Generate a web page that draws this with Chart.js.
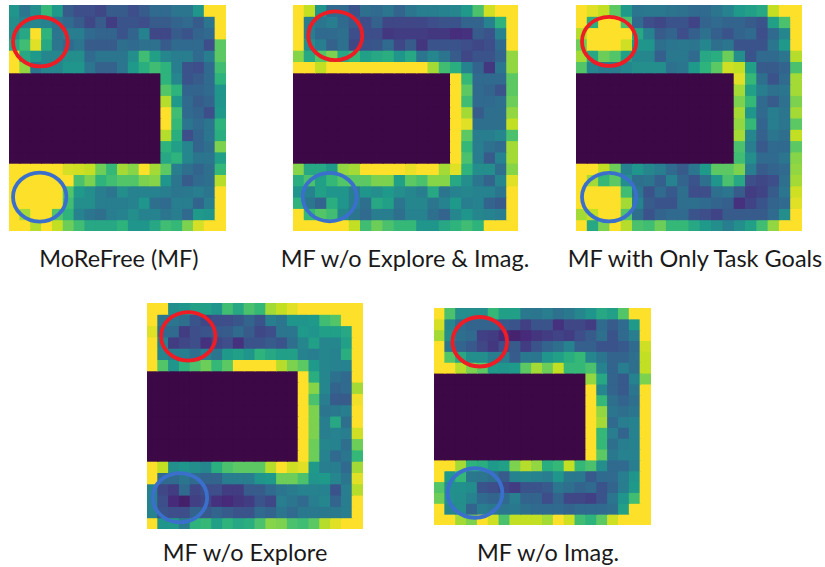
<!DOCTYPE html>
<html>
<head>
<meta charset="utf-8">
<script src="https://cdn.jsdelivr.net/npm/chart.js"></script>
<style>
    html, body { margin: 0; background: #fff; }
    body { position: relative; width: 825px; height: 567px; overflow: hidden; }
    .map { position: absolute; filter: blur(0.45px); }
    .label { position: absolute; width: 300px; text-align: center; font: 23.5px Lato, sans-serif; color: #1a1a1a; white-space: nowrap; }
</style>
</head>
<body>
<script>
const columns = ['0','1','2','3','4','5','6','7','8','9','10','11','12','13','14','15','16','17','18','19'];

const moreFree = [
    [48,35,45,62,50,25,20,20,18,25,25,20,25,30,30,35,35,48,100,100],
    [45,40,42,40,35,30,25,18,25,15,22,22,20,25,25,28,30,25,35,100],
    [45,55,100,60,35,38,38,30,28,28,22,28,40,18,18,25,22,28,30,100],
    [55,65,95,55,35,30,35,25,25,25,32,30,33,33,25,30,30,30,20,72],
    [100,55,50,42,42,45,45,30,35,35,35,45,65,52,42,38,38,30,38,72],
    [100,82,35,42,42,48,48,35,27,27,35,50,58,65,60,38,22,20,30,65],
    [0,0,0,0,0,0,0,0,0,0,0,0,0,0,60,42,22,25,30,60],
    [0,0,0,0,0,0,0,0,0,0,0,0,0,0,70,60,28,28,30,48],
    [0,0,0,0,0,0,0,0,0,0,0,0,0,0,88,50,30,25,28,48],
    [0,0,0,0,0,0,0,0,0,0,0,0,0,0,100,65,30,28,20,50],
    [0,0,0,0,0,0,0,0,0,0,0,0,0,0,100,62,35,30,35,60],
    [0,0,0,0,0,0,0,0,0,0,0,0,0,0,88,58,20,28,35,58],
    [0,0,0,0,0,0,0,0,0,0,0,0,0,0,60,52,42,28,32,78],
    [0,0,0,0,0,0,0,0,0,0,0,0,0,0,55,60,42,35,35,52],
    [100,100,100,100,100,93,92,90,75,62,85,80,100,85,72,38,32,28,32,62],
    [100,100,100,100,100,100,68,78,60,65,70,70,78,80,48,35,25,30,32,88],
    [100,100,100,100,100,70,50,45,38,35,45,40,40,40,38,35,36,38,35,100],
    [100,100,100,100,100,65,45,45,38,38,38,40,48,32,30,38,38,28,38,100],
    [100,85,100,100,70,60,40,35,32,38,40,45,40,40,35,38,30,50,48,100],
    [100,100,88,100,90,75,65,55,55,55,60,48,48,55,65,62,78,93,100,100]
];

const noExploreImag = [
    [100,90,48,30,30,22,32,30,35,28,35,38,38,40,42,50,68,92,100,100],
    [100,38,35,38,30,25,20,27,18,18,18,18,20,22,22,28,28,40,60,100],
    [100,38,30,30,32,20,20,20,14,15,15,15,14,14,11,12,25,22,40,100],
    [100,45,38,27,33,18,22,23,30,18,25,13,22,22,22,20,18,20,30,100],
    [80,55,70,78,55,62,52,55,58,48,55,35,42,35,25,18,22,22,28,82],
    [100,100,90,100,100,100,100,100,100,100,100,100,85,65,58,40,28,14,35,82],
    [0,0,0,0,0,0,0,0,0,0,0,0,0,0,100,62,30,30,30,72],
    [0,0,0,0,0,0,0,0,0,0,0,0,0,0,100,72,30,28,22,72],
    [0,0,0,0,0,0,0,0,0,0,0,0,0,0,100,65,30,30,32,75],
    [0,0,0,0,0,0,0,0,0,0,0,0,0,0,100,85,25,32,32,82],
    [0,0,0,0,0,0,0,0,0,0,0,0,0,0,100,95,32,32,32,90],
    [0,0,0,0,0,0,0,0,0,0,0,0,0,0,100,72,38,38,42,68],
    [0,0,0,0,0,0,0,0,0,0,0,0,0,0,100,62,38,33,30,85],
    [0,0,0,0,0,0,0,0,0,0,0,0,0,0,100,68,38,25,40,85],
    [80,55,55,50,82,85,100,100,100,100,97,100,100,85,95,60,45,45,32,80],
    [58,68,52,62,70,72,72,78,78,52,72,68,80,80,55,45,35,28,42,95],
    [48,40,52,48,48,38,48,45,50,45,42,38,55,35,40,42,40,40,35,100],
    [60,35,28,58,48,38,32,55,52,35,42,42,35,40,50,38,40,28,25,100],
    [100,62,70,65,42,35,30,38,38,32,40,40,32,28,42,48,42,40,38,100],
    [100,100,100,100,100,90,65,75,68,62,62,48,48,55,60,65,60,100,100,100]
];

const onlyTaskGoals = [
    [100,95,90,72,50,35,36,36,34,33,30,30,35,40,50,52,55,90,100,100],
    [100,58,100,100,68,30,20,18,22,22,17,28,30,28,28,25,22,52,68,100],
    [88,100,100,100,100,55,40,25,28,20,26,33,26,22,28,30,20,30,42,100],
    [75,100,100,100,92,48,48,32,35,36,35,42,32,35,22,22,22,35,50,100],
    [85,55,75,70,52,42,42,26,36,36,30,55,58,75,45,22,30,30,35,88],
    [70,42,38,38,42,45,45,45,33,35,50,60,72,92,90,52,25,25,28,68],
    [0,0,0,0,0,0,0,0,0,0,0,0,0,0,95,62,32,22,30,85],
    [0,0,0,0,0,0,0,0,0,0,0,0,0,0,85,52,38,33,35,85],
    [0,0,0,0,0,0,0,0,0,0,0,0,0,0,78,62,30,25,33,78],
    [0,0,0,0,0,0,0,0,0,0,0,0,0,0,85,48,30,38,35,85],
    [0,0,0,0,0,0,0,0,0,0,0,0,0,0,82,62,28,38,35,72],
    [0,0,0,0,0,0,0,0,0,0,0,0,0,0,85,42,27,35,32,90],
    [0,0,0,0,0,0,0,0,0,0,0,0,0,0,68,38,24,30,30,72],
    [0,0,0,0,0,0,0,0,0,0,0,0,0,0,65,45,30,30,35,80],
    [100,100,90,75,40,48,42,38,30,25,35,50,72,72,78,38,25,28,30,82],
    [100,85,62,72,45,32,34,26,40,28,22,32,48,68,55,20,18,20,32,85],
    [100,100,100,100,65,35,22,30,24,32,20,20,32,35,25,15,17,25,35,92],
    [100,100,100,100,85,40,25,22,22,32,32,30,28,26,12,17,22,28,30,95],
    [85,90,100,100,70,32,22,28,30,30,22,20,17,25,25,25,25,30,45,100],
    [100,55,78,100,88,68,65,75,62,62,55,50,45,38,45,52,65,82,100,100]
];

const noExplore = [
    [100,100,45,48,52,52,48,65,55,68,62,85,90,95,100,100,100,100,100,100],
    [100,35,35,32,22,18,20,20,23,28,22,38,35,48,48,50,65,70,100,100],
    [95,30,30,15,20,22,24,25,30,25,18,20,35,35,50,48,52,52,55,100],
    [100,40,15,18,20,12,18,20,12,22,22,25,22,32,42,52,42,42,52,100],
    [100,42,38,38,32,40,35,50,52,48,60,55,52,52,40,38,42,40,58,100],
    [100,70,48,60,68,75,62,72,100,100,100,100,88,78,72,50,42,40,40,100],
    [0,0,0,0,0,0,0,0,0,0,0,0,0,0,100,58,42,33,30,100],
    [0,0,0,0,0,0,0,0,0,0,0,0,0,0,100,80,42,28,30,85],
    [0,0,0,0,0,0,0,0,0,0,0,0,0,0,100,68,38,25,25,98],
    [0,0,0,0,0,0,0,0,0,0,0,0,0,0,100,78,35,36,38,100],
    [0,0,0,0,0,0,0,0,0,0,0,0,0,0,100,78,38,55,32,100],
    [0,0,0,0,0,0,0,0,0,0,0,0,0,0,100,78,38,40,38,92],
    [0,0,0,0,0,0,0,0,0,0,0,0,0,0,100,75,42,40,32,75],
    [0,0,0,0,0,0,0,0,0,0,0,0,0,0,100,75,40,30,35,62],
    [100,90,45,48,45,42,58,68,72,72,72,88,100,92,95,50,38,38,30,85],
    [100,30,30,35,30,28,28,38,38,38,48,50,75,75,68,48,50,42,35,95],
    [40,18,15,30,18,20,20,15,15,25,25,30,35,37,40,40,40,22,38,88],
    [40,20,10,7,16,18,12,10,13,15,22,18,38,35,30,38,42,28,38,100],
    [40,22,20,20,28,24,28,25,22,22,30,28,35,30,36,36,36,36,38,100],
    [100,48,50,38,60,62,52,60,55,58,68,80,78,68,65,72,88,95,100,100]
];

const noImag = [
    [100,68,45,45,45,62,52,52,36,35,38,33,36,42,48,55,52,70,100,100],
    [93,42,30,28,28,28,24,22,16,22,22,12,18,18,15,30,25,30,50,100],
    [85,45,32,30,16,15,10,8,10,13,15,17,15,20,25,32,22,30,38,100],
    [100,35,28,24,18,14,20,25,15,22,28,32,40,26,26,22,22,24,30,92],
    [100,70,55,45,45,38,38,25,36,35,48,52,58,62,42,35,28,28,32,90],
    [100,100,88,78,72,50,48,50,72,85,75,90,62,62,68,40,28,38,32,90],
    [0,0,0,0,0,0,0,0,0,0,0,0,0,0,82,55,28,24,40,78],
    [0,0,0,0,0,0,0,0,0,0,0,0,0,0,100,42,28,24,35,100],
    [0,0,0,0,0,0,0,0,0,0,0,0,0,0,100,62,32,28,32,100],
    [0,0,0,0,0,0,0,0,0,0,0,0,0,0,100,82,35,32,35,100],
    [0,0,0,0,0,0,0,0,0,0,0,0,0,0,100,85,30,38,40,100],
    [0,0,0,0,0,0,0,0,0,0,0,0,0,0,100,62,38,28,40,100],
    [0,0,0,0,0,0,0,0,0,0,0,0,0,0,100,62,32,38,40,100],
    [0,0,0,0,0,0,0,0,0,0,0,0,0,0,100,72,36,40,40,100],
    [100,100,85,60,58,50,52,78,88,82,58,62,90,62,68,45,30,30,38,100],
    [100,50,62,36,35,32,25,40,42,40,38,48,36,36,24,30,30,38,48,100],
    [70,46,46,44,22,20,18,15,22,22,24,35,32,28,30,22,28,38,50,100],
    [75,46,45,40,30,28,30,38,28,28,20,28,18,18,16,22,35,48,65,100],
    [100,42,45,28,38,36,35,36,32,30,30,30,28,30,30,30,32,52,100,100],
    [100,100,85,78,100,92,68,90,90,90,85,100,92,65,60,72,92,100,100,100]
];

// viridis stops, one every 10 units, nudged to the tones in the picture
const viridis = ['#3c0845','#472a7a','#3d4e8a','#306a8e','#26828e','#1f9a8a','#2eb37c','#52c569','#86d549','#c2df23','#fde02a'];

function cellColor(v) {
    const i = Math.min(Math.floor(v / 10), 9);
    const t = v / 10 - i;
    const a = viridis[i], b = viridis[i + 1];
    const mix = [1, 3, 5].map(function(p) {
        const from = parseInt(a.substr(p, 2), 16);
        const to = parseInt(b.substr(p, 2), 16);
        return Math.round(from + (to - from) * t);
    });
    return 'rgb(' + mix.join(',') + ')';
}

// draws the red and blue rings in cell units, through the chart's scales
const ringPlugin = {
    id: 'rings',
    afterDraw: function(chart, args, opts) {
        const ctx = chart.ctx;
        const sx = chart.scales.x, sy = chart.scales.y;
        const unitX = (sx.right - sx.left) / 20;
        const unitY = (sy.bottom - sy.top) / 20;
        opts.list.forEach(function(r) {
            ctx.save();
            ctx.beginPath();
            ctx.ellipse(sx.left + r.cx * unitX, sy.getPixelForValue(r.cy), r.rx * unitX, r.ry * unitY, 0, 0, Math.PI * 2);
            ctx.lineWidth = 3.8;
            ctx.strokeStyle = r.color;
            ctx.stroke();
            ctx.restore();
        });
    }
};

function drawMap(rows, box, rings) {
    const canvas = document.createElement('canvas');
    const holder = document.createElement('div');
    holder.className = 'map';
    holder.style.left = box.x + 'px';
    holder.style.top = box.y + 'px';
    holder.style.width = box.w + 'px';
    holder.style.height = box.h + 'px';
    holder.appendChild(canvas);
    document.body.appendChild(holder);

    new Chart(canvas, {
        type: 'bar',
        data: {
            labels: columns,
            datasets: rows.map(function(row, r) {
                return {
                    data: row.map(function() { return [r, r + 1]; }),
                    backgroundColor: row.map(cellColor),
                    grouped: false,
                    barPercentage: 1,
                    categoryPercentage: 1,
                    inflateAmount: 0.5
                };
            })
        },
        options: {
            responsive: true,
            maintainAspectRatio: false,
            animation: false,
            layout: { padding: 0 },
            scales: {
                x: { display: false },
                y: { display: false, min: 0, max: 20, reverse: true }
            },
            plugins: {
                legend: { display: false },
                tooltip: { enabled: false },
                rings: { list: rings }
            }
        },
        plugins: [ringPlugin]
    });
}

const red = '#ee1c25';
const blue = '#3a70cc';

drawMap(moreFree, { x: 9, y: 5, w: 217, h: 226 }, [
    { cx: 2.89, cy: 3.25, rx: 2.52, ry: 2.19, color: red },
    { cx: 2.83, cy: 17.0, rx: 2.46, ry: 2.17, color: blue }
]);
drawMap(noExploreImag, { x: 293, y: 5, w: 225, h: 226 }, [
    { cx: 3.76, cy: 2.72, rx: 2.4, ry: 2.16, color: red },
    { cx: 3.26, cy: 17.0, rx: 2.4, ry: 2.14, color: blue }
]);
drawMap(onlyTaskGoals, { x: 576, y: 5, w: 226, h: 226 }, [
    { cx: 2.93, cy: 3.22, rx: 2.4, ry: 2.17, color: red },
    { cx: 2.93, cy: 17.0, rx: 2.4, ry: 2.15, color: blue }
]);
drawMap(noExplore, { x: 147, y: 303, w: 216, h: 226 }, [
    { cx: 3.82, cy: 2.95, rx: 2.52, ry: 2.15, color: red },
    { cx: 3.05, cy: 17.23, rx: 2.52, ry: 2.18, color: blue }
]);
drawMap(noImag, { x: 434, y: 308, w: 217, h: 217 }, [
    { cx: 4.22, cy: 3.11, rx: 2.52, ry: 2.28, color: red },
    { cx: 3.78, cy: 17.05, rx: 2.52, ry: 2.28, color: blue }
]);

const captions = [
    { text: 'MoReFree (MF)', x: 119, y: 244 },
    { text: 'MF w/o Explore & Imag.', x: 405, y: 244 },
    { text: 'MF with Only Task Goals', x: 695, y: 244 },
    { text: 'MF w/o Explore', x: 245, y: 538 },
    { text: 'MF w/o Imag.', x: 548, y: 538 }
];

captions.forEach(function(c) {
    const div = document.createElement('div');
    div.className = 'label';
    div.textContent = c.text;
    div.style.left = (c.x - 150) + 'px';
    div.style.top = c.y + 'px';
    document.body.appendChild(div);
});
</script>
</body>
</html>
